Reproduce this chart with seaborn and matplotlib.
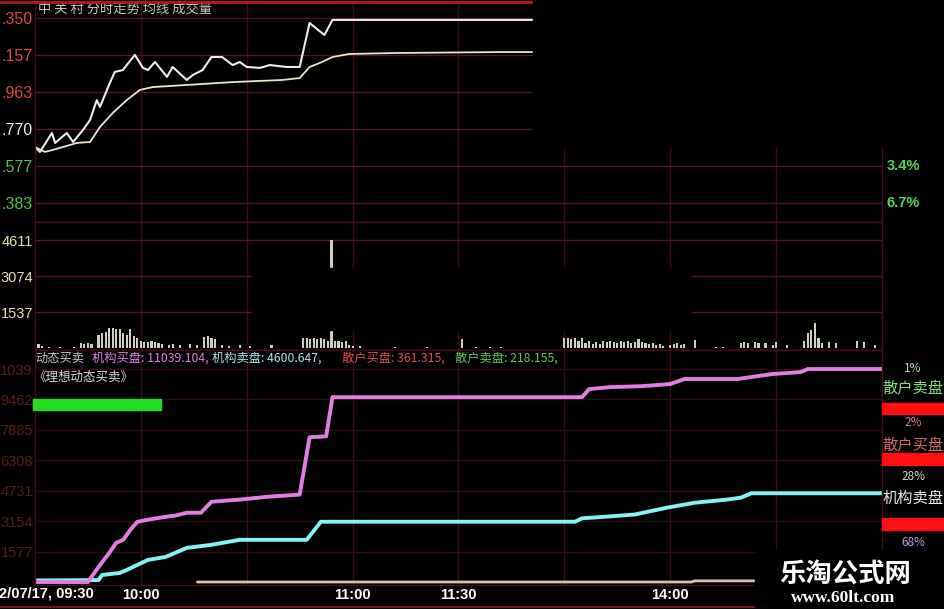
import numpy as np
import matplotlib
matplotlib.use('Agg')
import matplotlib.pyplot as plt
import seaborn as sns
from matplotlib.patches import Rectangle
from matplotlib.lines import Line2D

# x = trading minutes since 09:30 (lunch break removed, 240 = 15:00)
price_t = [0, 1.4, 4.8, 5.7, 9, 10.8, 13.6, 15.6, 17.5, 18.4, 21.2, 22.6, 24.9, 26, 28.3,
           30.6, 32, 34, 37.4, 39, 43, 44.7, 47.5, 50, 53, 56, 58, 60, 63.7, 66.5, 71.3,
           75, 77.8, 82, 84.3, 141]
price_v = [5.676, 5.650, 5.749, 5.697, 5.749, 5.702, 5.765, 5.817, 5.921, 5.885, 6.010,
           6.068, 6.078, 6.104, 6.157, 6.089, 6.078, 6.120, 6.042, 6.094, 6.026, 6.052,
           6.078, 6.146, 6.146, 6.104, 6.120, 6.094, 6.089, 6.104, 6.094, 6.094, 6.324,
           6.261, 6.340, 6.340]
avg_t = [0, 2.8, 5, 11.9, 15.6, 18.4, 22, 26, 29.7, 33.4, 43, 56, 70, 75, 77.8, 80.7,
         84.3, 89, 102, 132, 141]
avg_v = [5.676, 5.650, 5.660, 5.697, 5.702, 5.780, 5.853, 5.921, 5.974, 5.989, 6.000,
         6.015, 6.026, 6.036, 6.094, 6.115, 6.146, 6.162, 6.167, 6.172, 6.172]

vol = [300, 150, 100, 0, 40, 0, 0, 60, 0, 0,
       0, 40, 0, 200, 160, 220, 180, 0, 550, 630,
       670, 840, 840, 800, 800, 630, 550, 800, 500, 420,
       300, 260, 250, 280, 240, 200, 160, 0, 120, 150,
       0, 130, 0, 0, 150, 0, 120, 0, 450, 500,
       420, 380, 0, 120, 0, 100, 0, 0, 130, 0,
       0, 90, 0, 0, 0, 0, 0, 120, 0, 0,
       0, 0, 0, 0, 0, 0, 420, 440, 400, 420,
       380, 420, 400, 300, 4611, 280, 300, 260, 280, 120,
       100, 0, 80, 0, 0, 0, 0, 0, 0, 0,
       0, 0, 40, 0, 0, 0, 0, 0, 0, 0,
       0, 40, 0, 0, 0, 0, 0, 0, 0, 0,
       0, 380, 0, 0, 0, 40, 0, 0, 0, 40,
       0, 0, 40, 0, 0, 0, 0, 0, 0, 0,
       0, 0, 0, 0, 0, 0, 0, 0, 0, 0,
       420, 430, 380, 420, 300, 410, 200, 300, 180, 260,
       150, 300, 250, 320, 250, 200, 300, 250, 320, 220,
       260, 400, 260, 200, 150, 220, 120, 180, 100, 0,
       130, 160, 200, 120, 150, 0, 0, 330, 0, 0,
       0, 0, 0, 60, 0, 60, 0, 0, 0, 0,
       200, 260, 220, 0, 250, 200, 0, 230, 0, 120,
       260, 0, 0, 120, 0, 0, 0, 0, 300, 630,
       760, 1050, 420, 200, 0, 240, 0, 200, 0, 0,
       0, 0, 0, 280, 0, 250, 0, 0, 120, 0,
       0]
vol_t = np.arange(len(vol))

inst_buy_t = [0, 15, 18, 21, 23, 25, 27, 29, 32, 37, 40, 43, 47, 50, 58, 66, 75, 77.8,
              82.5, 84.3, 155, 157, 163, 172, 180, 184, 199, 209, 217, 219, 240]
inst_buy_v = [0, 0, 780, 1500, 2030, 2190, 2700, 3120, 3230, 3380, 3450, 3590, 3590, 4160,
              4270, 4420, 4530, 7500, 7550, 9580, 9580, 10000, 10100, 10150, 10260, 10520,
              10520, 10780, 10880, 11039, 11039]
inst_sell_t = [0, 18, 19, 24, 26, 32, 37, 43, 50, 58, 77, 81, 153, 155, 163, 170, 179,
               187, 196, 200, 203, 240]
inst_sell_v = [80, 100, 365, 470, 625, 1146, 1300, 1770, 1927, 2187, 2187, 3124, 3124,
               3300, 3400, 3500, 3850, 4110, 4270, 4370, 4600, 4600]
retail_t = [46, 186, 187, 240]
retail_v = [0, 0, 60, 60]

price_ticks = [6.350, 6.157, 5.963, 5.770, 5.577, 5.383]
price_labels = ['.350', '.157', '.963', '.770', '.577', '.383']
price_colors = ['#e04848', '#e04848', '#e04848', '#e8e8e8', '#50c050', '#50c050']
pct_labels = ['3.4%', '6.7%']
vol_ticks = [1537, 3074, 4611]
vol_labels = ['1537', '3074', '4611']
ind_ticks = [1577, 3154, 4731, 6308, 7885, 9462, 11039]
ind_labels = ['1577', '3154', '4731', '6308', '7885', '9462', '1039']
time_ticks = [30, 60, 90, 120, 150, 180, 210]
time_labels = ['10:00', '', '11:00', '11:30', '', '14:00', '']

sns.set_theme(style='dark', rc={'axes.facecolor': 'black', 'figure.facecolor': 'black'})
plt.rcParams['font.family'] = ['Noto Sans CJK SC', 'DejaVu Sans']
NUMF = ['Liberation Sans', 'DejaVu Sans']

W, H = 945, 609
def fx(x): return x / W
def fy(y): return 1 - y / H
def box(x0, y0, x1, y1): return [fx(x0), fy(y1), fx(x1) - fx(x0), fy(y0) - fy(y1)]

fig = plt.figure(figsize=(9.45, 6.09), dpi=100, facecolor='black')
ax_p = fig.add_axes(box(35, 2, 882, 222))
ax_v = fig.add_axes(box(35, 222, 882, 350))
ax_i = fig.add_axes(box(35, 350, 882, 585))

# price panel
sns.lineplot(x=price_t, y=price_v, ax=ax_p, color='#ececec', linewidth=1.5)
sns.lineplot(x=avg_t, y=avg_v, ax=ax_p, color='#e6e6cc', linewidth=1.3)
ax_p.set_ylim(5.2837, 6.4336)

# volume panel
sns.barplot(x=vol_t, y=vol, ax=ax_v, native_scale=True, color='#d0d0c0', saturation=1,
            width=0.6, errorbar=None, linewidth=0)
ax_v.set_ylim(-85, 5380)

# indicator panel
sns.lineplot(x=retail_t, y=retail_v, ax=ax_i, color='#d8c4aa', linewidth=2)
sns.lineplot(x=inst_sell_t, y=inst_sell_v, ax=ax_i, color='#86f2f2', linewidth=2.8)
sns.lineplot(x=inst_buy_t, y=inst_buy_v, ax=ax_i, color='#e27ee2', linewidth=2.8)
ax_i.set_ylim(-155, 12024)

for ax, ticks, labels, colors, grid, size in [
        (ax_p, price_ticks, price_labels, price_colors, '#561224', 11.5),
        (ax_v, vol_ticks, vol_labels, ['#e8e0a8'] * 3, '#561224', 10.5),
        (ax_i, ind_ticks, ind_labels, ['#5a1a1a'] * 7, '#2e0a12', 10.5)]:
    ax.set_facecolor('black')
    ax.set_xlim(0, 240)
    ax.set_xlabel('')
    ax.set_ylabel('')
    ax.set_xticks(time_ticks, labels=time_labels)
    ax.set_yticks(ticks, labels=labels)
    ax.grid(True, axis='y', color=grid, linewidth=1)
    ax.grid(True, axis='x', color='#3c0c16', linewidth=1)
    ax.tick_params(length=0)
    ax.tick_params(axis='y', pad=1.5, labelsize=size)
    for lbl, c in zip(ax.get_yticklabels(), colors):
        lbl.set_color(c)
        lbl.set_fontfamily(NUMF)
    for s in ax.spines.values():
        s.set_color('#4a0c18')
        s.set_linewidth(1)

ax_p.tick_params(axis='x', labelbottom=False)
ax_v.tick_params(axis='x', labelbottom=False)
ax_i.tick_params(axis='x', pad=2, labelsize=10.5, labelcolor='white')
for lbl in ax_i.get_xticklabels():
    lbl.set_fontfamily(NUMF)
    lbl.set_fontweight('bold')
ax_p.spines['top'].set_color('#b01818')
ax_p.spines['top'].set_linewidth(2)

fig.text(fx(-1), fy(593), '2/07/17, 09:30', color='white', fontsize=10.5, fontweight='bold',
         family=NUMF, ha='left', va='center')

# titles and legends
fig.text(fx(38), fy(9), '中 关 村 分时走势 均线 成交量', color='#c8c8b4', fontsize=9.5,
         ha='left', va='center')
for lbl, y in zip(pct_labels, [166, 203]):
    fig.text(fx(887), fy(y), lbl, color='#5cd05c', fontsize=10.5, fontweight='bold',
             family=NUMF, ha='left', va='center')

header = [('动态买卖', 35, '#c8c8c8'),
          ('机构买盘: 11039.104,', 92, '#e080e0'),
          ('机构卖盘: 4600.647,', 212, '#b0e8e8'),
          ('散户买盘: 361.315,', 342, '#e05050'),
          ('散户卖盘: 218.155,', 455, '#60c860')]
for txt, x, c in header:
    fig.text(fx(x), fy(358), txt, color=c, fontsize=8.8, ha='left', va='center')
fig.text(fx(33), fy(377), '《理想动态买卖》', color='#d8d8d8', fontsize=9, ha='left', va='center')
fig.add_artist(Rectangle((fx(33), fy(410)), fx(161) - fx(33), fy(399) - fy(410),
                         transform=fig.transFigure, color='#22dd22', zorder=5))

# right side ratio block
for y0, y1 in [(403, 414), (453, 465), (518, 530)]:
    fig.add_artist(Rectangle((fx(882), fy(y1)), fx(945) - fx(882), fy(y0) - fy(y1),
                             transform=fig.transFigure, color='#ff1010', zorder=5))
side = [('1%', 369, '#a8e0a8', 8.5), ('散户卖盘', 388, '#88d888', 11),
        ('2%', 422, '#d88080', 8.5), ('散户买盘', 445, '#d86868', 11),
        ('28%', 477, '#c8dcc8', 8.5), ('机构卖盘', 498, '#ececec', 11),
        ('68%', 542, '#c890e8', 8.5)]
for txt, y, c, s in side:
    fig.text(fx(913), fy(y), txt, color=c, fontsize=s, ha='center', va='center', zorder=6)

# black patches of the screenshot
for x0, y0, x1, y1 in [(533, 0, 945, 147), (252, 268, 690, 330), (755, 550, 945, 609)]:
    fig.add_artist(Rectangle((fx(x0), fy(y1)), fx(x1) - fx(x0), fy(y0) - fy(y1),
                             transform=fig.transFigure, color='black', zorder=10))
fig.add_artist(Line2D([0, fx(533)], [fy(1.5), fy(1.5)], color='#b01818', linewidth=2,
                      transform=fig.transFigure, zorder=9))
fig.add_artist(Line2D([0, fx(755)], [fy(607), fy(607)], color='#7a1414', linewidth=1.5,
                      transform=fig.transFigure, zorder=9))

fig.text(fx(845), fy(574), '乐淘公式网', color='white', fontsize=19, fontweight='bold',
         ha='center', va='center', zorder=11)
fig.text(fx(843), fy(598), 'www.60lt.com', color='white', fontsize=12.5, fontweight='bold',
         family=['Liberation Serif', 'DejaVu Serif'], ha='center', va='center', zorder=11)

fig.savefig('out.png', dpi=100, facecolor='black')
